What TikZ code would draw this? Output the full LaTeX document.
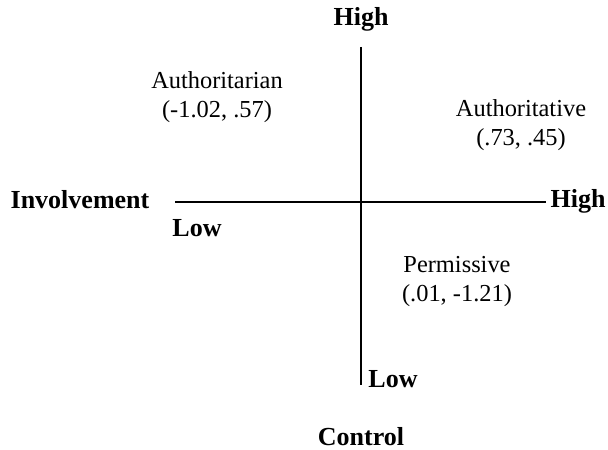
\documentclass[tikz,border=0pt]{standalone}
\usepackage{fontspec}
\setmainfont{Liberation Serif}
\usetikzlibrary{positioning}

\begin{document}
\begin{tikzpicture}[
  x=0.5pt, y=-0.5pt,
  every node/.style={font=\fontsize{12.2}{14}\selectfont, align=center, inner sep=0pt},
  axislabel/.style={font=\fontsize{13}{15}\selectfont\bfseries},
  axis/.style={line width=1.3pt}
]
\useasboundingbox (0,0) rectangle (608,449);

% axes
\coordinate (xmin) at (175,202);
\coordinate (xmax) at (546,202);
\coordinate (ymin) at (361,385);
\coordinate (ymax) at (361,47);
\draw[axis] (xmin) -- (xmax);
\draw[axis] (ymax) -- (ymin);

% axis labels
\node[axislabel] (ctrlhigh) at (361,19) {High};
\node[axislabel] (ctrllow) at (393,379) {Low};
\node[axislabel] (control) at (361,437) {Control};
\node[axislabel] (involve) at (80,200) {Involvement};
\node[axislabel] (invlow) at (197,228) {Low};
\node[axislabel] (invhigh) at (578,201) {High};

% styles
\node (authtarian) at (217,80) {Authoritarian};
\node[below=5.5pt of authtarian] (authtarianval) {(-1.02, .57)};
\node (authtive) at (521,108) {Authoritative};
\node[below=5.5pt of authtive] (authtiveval) {(.73, .45)};
\node (permissive) at (457,265) {Permissive};
\node[below=5.5pt of permissive] (permissiveval) {(.01, -1.21)};
\end{tikzpicture}
\end{document}
